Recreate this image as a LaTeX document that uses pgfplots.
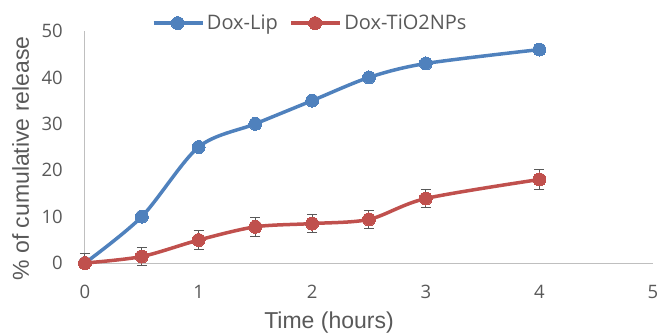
\documentclass[border=0pt]{standalone}
\usepackage{fontspec}
\setmainfont{Open Sans}
\newfontfamily\arialf{Liberation Sans}
\usepackage{pgfplots}
\pgfplotsset{compat=1.18}
\definecolor{exblue}{HTML}{4F81BD}
\definecolor{exred}{HTML}{C0504D}
\definecolor{txt}{HTML}{595959}
\definecolor{axl}{HTML}{BFBFBF}
\begin{document}
\begin{tikzpicture}
\begin{axis}[
  scale only axis, width=568pt, height=232pt,
  xmin=0, xmax=5, ymin=0, ymax=50,
  axis x line=bottom, axis y line=left,
  axis line style={axl, line width=1pt, -},
  xtick={0,1,2,3,4,5}, ytick={0,10,20,30,40,50},
  major tick length=0pt,
  /pgf/number format/assume math mode=true,
  tick label style={font=\fontsize{18.5}{18.5}\selectfont, text=txt},
  xticklabel style={anchor=center, inner sep=0pt, yshift=-28.7pt},
  yticklabel style={anchor=east, inner sep=0pt, xshift=-22pt},
  xlabel={Time (hours)},
  ylabel={\% of cumulative release},
  label style={font=\arialf\fontsize{23}{23}\selectfont, text=txt},
  xlabel style={at={(axis description cs:0.4296,0)}, anchor=base, yshift=-65.3pt, inner sep=0pt},
  ylabel style={at={(axis description cs:-0.0986,0.4504)}, anchor=base, inner sep=0pt},
  clip=false,
  legend style={draw=none, fill=none, legend columns=2,
    font=\fontsize{20}{20}\selectfont, text=txt,
    at={(axis description cs:0.397,1.034)}, anchor=center,
    /tikz/every even column/.append style={column sep=9pt},
    nodes={inner sep=2.5pt}},
  legend cell align=left,
  legend image code/.code={\draw[mark repeat=2,mark phase=2,#1] plot coordinates {(0pt,0pt) (24pt,0pt) (49pt,0pt)};},
]
\addplot[exblue, line width=3.5pt, smooth, tension=0.5, mark=*, mark size=6.5pt, mark options={solid, fill=exblue, draw=exblue, line width=0pt}]
  table {
x y
0 0
0.5 10
1 25
1.5 30
2 35
2.5 40
3 43
4 46
};
\addlegendentry{Dox-Lip}
\addplot[exred, line width=3.5pt, smooth, tension=0.5, mark=*, mark size=6.5pt, mark options={solid, fill=exred, draw=exred, line width=0pt},
  error bars/.cd, y dir=both, y explicit,
  error bar style={line width=1pt, color=txt},
  error mark options={rotate=90, mark size=5pt, line width=1pt, color=txt}]
  table[y error plus=ep, y error minus=em] {
x y ep em
0 0 2.1 0
0.5 1.4 2 2
1 4.95 2 2
1.5 7.8 2 2
2 8.5 2 2
2.5 9.4 2 2
3 13.9 2 2
4 18 2.1 2.1
};
\addlegendentry{Dox-TiO2NPs}
\end{axis}
\pgfresetboundingbox
\path[use as bounding box] ([shift={(-85pt,-70pt)}]current axis.south west) rectangle ++(659pt,333pt);
\end{tikzpicture}
\end{document}
